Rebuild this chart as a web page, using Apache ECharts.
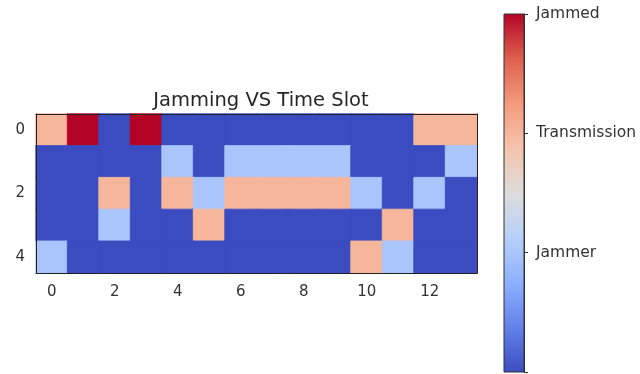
<!DOCTYPE html>
<html><head><meta charset="utf-8">
<script src="https://cdn.jsdelivr.net/npm/echarts@6.0.0/dist/echarts.min.js"></script>
<style>html,body{margin:0;padding:0;background:#fff}#c{width:640px;height:374px}</style>
</head><body><div id="c"></div>
<script>
const timeSlots = ['0','1','2','3','4','5','6','7','8','9','10','11','12','13'];
const rowLabels = ['0','1','2','3','4'];
// 0 = idle, 1 = Jammer, 2 = Transmission, 3 = Jammed
const row0 = [2,3,0,3,0,0,0,0,0,0,0,0,2,2];
const row1 = [0,0,0,0,1,0,1,1,1,1,0,0,0,1];
const row2 = [0,0,2,0,2,1,2,2,2,2,1,0,1,0];
const row3 = [0,0,1,0,0,2,0,0,0,0,0,2,0,0];
const row4 = [1,0,0,0,0,0,0,0,0,0,2,1,0,0];
const rows = [row0, row1, row2, row3, row4];
const colorbarLabels = {0: '', 1: 'Jammer', 2: 'Transmission', 3: 'Jammed'};
const coolwarm = ['#3b4cc0','#6282ea','#8db0fe','#b8d0f9','#dddcdc','#f5c4ac','#f49a7b','#de604d','#b40426'];
const levelColors = ['#3b4cc0','#aac7fd','#f6b89c','#b40426'];

const data = [];
rows.forEach((r, y) => r.forEach((v, x) => data.push({
  value: [x, y, v],
  itemStyle: {borderColor: levelColors[v], borderWidth: 0.8}
})));

const chart = echarts.init(document.getElementById('c'), null, {renderer: 'canvas'});
const font = 'DejaVu Sans';
const evenOnly = (i) => i % 2 === 0;
const stops = coolwarm.map((c, i) => ({offset: 1 - i / (coolwarm.length - 1), color: c}));

chart.setOption({
  animation: false,
  backgroundColor: '#fff',
  title: {
    text: 'Jamming VS Time Slot', left: 256, top: 86, textAlign: 'center',
    textStyle: {fontFamily: font, fontSize: 19.5, fontWeight: 'normal', color: '#262626'}
  },
  grid: [
    {left: 36, top: 114, width: 441, height: 159},
    {left: 504, top: 14, width: 20, height: 358, show: true,
     backgroundColor: new echarts.graphic.LinearGradient(0, 0, 0, 1, stops.slice().reverse()),
     borderColor: '#333', borderWidth: 1}
  ],
  xAxis: [
    {type: 'category', gridIndex: 0, data: timeSlots, position: 'bottom', z: 10,
     axisLine: {lineStyle: {color: '#222', width: 1}},
     axisTick: {alignWithLabel: true, interval: (i) => evenOnly(i), length: 4, lineStyle: {color: '#222'}},
     axisLabel: {interval: (i) => evenOnly(i), fontFamily: font, fontSize: 15, color: '#333', margin: 12},
     splitLine: {show: false}},
    {type: 'category', gridIndex: 0, data: timeSlots, position: 'top', z: 10,
     axisLine: {lineStyle: {color: '#222', width: 1}}, axisTick: {show: false}, axisLabel: {show: false}},
    {type: 'value', gridIndex: 1, show: false, min: 0, max: 1}
  ],
  yAxis: [
    {type: 'category', gridIndex: 0, data: rowLabels, inverse: true, position: 'left', z: 10,
     axisLine: {lineStyle: {color: '#222', width: 1}},
     axisTick: {alignWithLabel: true, interval: (i) => evenOnly(i), length: 4, lineStyle: {color: '#222'}},
     axisLabel: {interval: (i) => evenOnly(i), fontFamily: font, fontSize: 15, color: '#333', margin: 11}},
    {type: 'category', gridIndex: 0, data: rowLabels, inverse: true, position: 'right', z: 10,
     axisLine: {lineStyle: {color: '#222', width: 1}}, axisTick: {show: false}, axisLabel: {show: false}},
    {type: 'value', gridIndex: 1, min: 0, max: 3, interval: 1, position: 'right', z: 10,
     axisLine: {show: true, onZero: false, lineStyle: {color: '#333'}},
     axisTick: {show: true, length: 4, lineStyle: {color: '#333'}},
     splitLine: {show: false},
     axisLabel: {fontFamily: font, fontSize: 15.5, color: '#333', margin: 12,
       formatter: (v) => colorbarLabels[v] !== undefined ? colorbarLabels[v] : ''}}
  ],
  visualMap: {
    type: 'continuous', show: false, min: 0, max: 3, seriesIndex: 0,
    inRange: {color: coolwarm}
  },
  series: [{
    type: 'heatmap', xAxisIndex: 0, yAxisIndex: 0, data: data,
    emphasis: {disabled: true}
  }]
});
</script></body></html>
